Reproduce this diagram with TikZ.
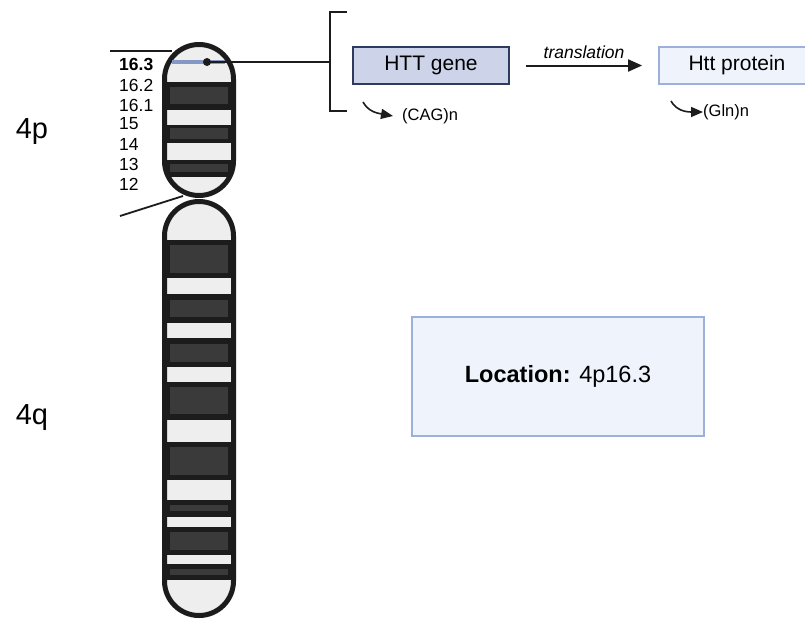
\documentclass[tikz,border=0pt]{standalone}
\usepackage{fontspec}
\setmainfont{Liberation Sans}
\usetikzlibrary{arrows.meta}
\definecolor{chromdark}{HTML}{1C1C1C}
\definecolor{bandgray}{HTML}{3A3A3A}
\definecolor{bandlight}{HTML}{EEEEEE}
\definecolor{genefill}{HTML}{CDD4EA}
\definecolor{genedraw}{HTML}{2F3B5E}
\definecolor{protfill}{HTML}{EEF3FC}
\definecolor{protdraw}{HTML}{9DB0DA}
\definecolor{locusblue}{HTML}{8597C4}
\newcommand\fsz[1]{\fontsize{#1}{#1}\selectfont}
\begin{document}
\begin{tikzpicture}[x=1pt,y=-1pt,
  armline/.style={draw=chromdark,line width=5pt,rounded corners=34.5pt},
  bandlabel/.style={anchor=west,inner sep=0pt,font=\fsz{17.5}},
  armlabel/.style={inner sep=0pt,font=\fsz{29}},
  leader/.style={draw=chromdark,line width=1.8pt},
  genebox/.style={draw=genedraw,fill=genefill,line width=1.8pt,minimum width=156pt,minimum height=37pt,inner sep=0pt,font=\fsz{21}},
  protbox/.style={draw=protdraw,fill=protfill,line width=1.8pt,minimum width=156pt,minimum height=37pt,inner sep=0pt,font=\fsz{21}},
  locbox/.style={draw=protdraw,fill=protfill,line width=2pt,minimum width=292pt,minimum height=119pt,inner sep=0pt,font=\fsz{23.5}},
  repeatarrow/.style={draw=chromdark,line width=1.6pt,-{Triangle[length=12pt,width=10pt]}},
  repeatlabel/.style={anchor=west,inner sep=0pt,font=\fsz{16.5}}]
\useasboundingbox (0,0) rectangle (805,619);
\fill[white] (0,0) rectangle (805,619);

% short arm (4p)
\begin{scope}
  \clip[rounded corners=34.5pt] (164.5,44.5) rectangle (233.5,195.5);
  \fill[chromdark] (160,40) rectangle (240,200);
  \foreach \a/\b in {40/82,110/125,143/160,177/200}
    \fill[bandlight] (160,\a) rectangle (240,\b);
  \foreach \a/\b in {87/104,128/139,164/172}
    \fill[bandgray] (170,\a) rectangle (228,\b);
\end{scope}
\draw[armline] (164.5,44.5) rectangle (233.5,195.5);

% long arm (4q)
\begin{scope}
  \clip[rounded corners=34.5pt] (164.5,201.5) rectangle (233.5,615.5);
  \fill[chromdark] (160,195) rectangle (240,620);
  \foreach \a/\b in {195/240,278/294,323/338,367/382,420/442,480/500,517/527,555/564,580/620}
    \fill[bandlight] (160,\a) rectangle (240,\b);
  \foreach \a/\b in {245/273,300/317,344/362,387/414,447/475,505/511,532/550,569/575}
    \fill[bandgray] (170,\a) rectangle (228,\b);
\end{scope}
\draw[armline] (164.5,201.5) rectangle (233.5,615.5);

% locus of the gene on 4p16.3
\draw[locusblue,line width=3.5pt] (172,62) -- (225,62);
\coordinate (locus) at (207,62);
\coordinate (brk) at (330,62);
\draw[leader] (locus) -- (brk);
\fill[chromdark] (locus) circle (4pt);
\draw[leader] (347,12) -- (330,12) -- (330,111) -- (347,111);

% arm boundary leaders
\coordinate (ptopA) at (110,51);
\coordinate (ptopB) at (172,51);
\draw[leader] (ptopA) -- (ptopB);
\coordinate (cenA) at (120,216);
\coordinate (cenB) at (183,196);
\draw[leader] (cenA) -- (cenB);

% band names
\node[bandlabel] (b163) at (119,64) {\textbf{16.3}};
\node[bandlabel] (b162) at (119,85.5) {16.2};
\node[bandlabel] (b161) at (119,105.5) {16.1};
\node[bandlabel] (b15) at (119,124) {15};
\node[bandlabel] (b14) at (119,144.5) {14};
\node[bandlabel] (b13) at (119,164.5) {13};
\node[bandlabel] (b12) at (119,184.5) {12};

\node[armlabel] (p) at (32,132) {4p};
\node[armlabel] (q) at (32,418) {4q};

% gene and product
\node[genebox] (gene) at (431,65.5) {HTT gene};
\node[protbox] (prot) at (737,65.5) {Htt protein};
\draw[draw=chromdark,line width=2pt,-{Triangle[length=14pt,width=12pt]},shorten <=16pt,shorten >=16pt] (gene) -- node[above=6pt,font=\fsz{17.5}\itshape,inner sep=0pt] (tr) {translation} (prot);

\node[repeatlabel] (cag) at (402,116) {(CAG)n};
\coordinate (cagS) at (363,102);
\draw[repeatarrow] (cagS) .. controls (368,111) and (376,113) .. ([xshift=-9pt]cag.west);
\node[repeatlabel] (gln) at (703,112) {(Gln)n};
\coordinate (glnS) at (671,101);
\draw[repeatarrow] (glnS) .. controls (676,110) and (685,112) .. (gln.west);

% location summary
\node[locbox] (loc) at (558,376.5) {\textbf{Location:} 4p16.3};
\end{tikzpicture}
\end{document}
